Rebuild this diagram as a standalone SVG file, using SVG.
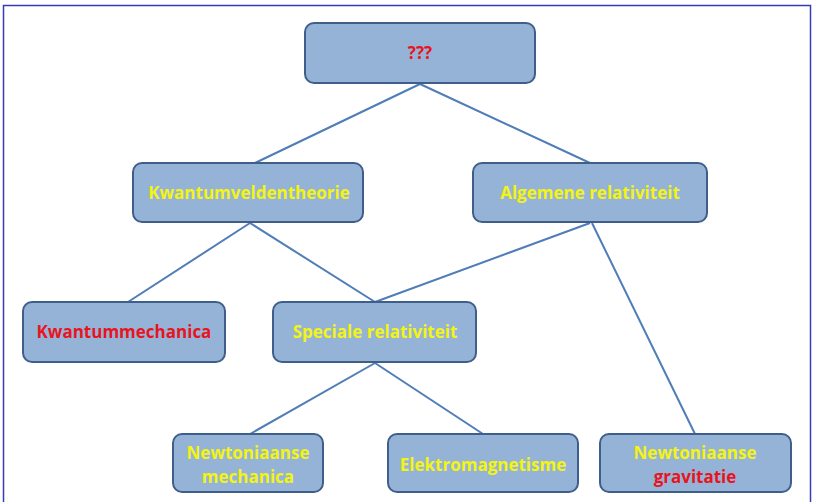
<svg xmlns="http://www.w3.org/2000/svg" width="814" height="502" viewBox="0 0 814 502">
<style>
.box{fill:#95b3d7;stroke:#3f5f8a;stroke-width:2}
.t{font-family:"Open Sans","Liberation Sans",sans-serif;font-weight:bold;font-size:17px;text-anchor:middle}
.y{fill:#f4f414}
.r{fill:#e8141e}
.ln{stroke:#4f7db6;stroke-width:2;fill:none}
</style>
<rect x="0" y="0" width="814" height="502" fill="#ffffff"/>
<rect x="3.5" y="5.5" width="807" height="500" fill="none" stroke="#3a3ab8" stroke-width="1.5"/>
<g id="connectors">
<line class="ln" x1="420" y1="84" x2="255" y2="163"/>
<line class="ln" x1="420" y1="84" x2="590" y2="163"/>
<line class="ln" x1="250" y1="223" x2="128" y2="302"/>
<line class="ln" x1="250" y1="223" x2="375" y2="302"/>
<line class="ln" x1="590" y1="223" x2="375" y2="302"/>
<line class="ln" x1="592" y1="223" x2="695" y2="434"/>
<line class="ln" x1="375" y1="363" x2="250" y2="434"/>
<line class="ln" x1="375" y1="363" x2="483" y2="434"/>
</g>
<g id="n-top">
<rect class="box" x="305" y="23" width="230" height="60" rx="9"/>
<text class="t r" x="420" y="59">???</text>
</g>
<g id="n-kvt">
<rect class="box" x="133" y="163" width="230" height="59" rx="9"/>
<text class="t y" x="249" y="199">Kwantumveldentheorie</text>
</g>
<g id="n-ar">
<rect class="box" x="473" y="163" width="234" height="59" rx="9"/>
<text class="t y" x="590" y="199">Algemene relativiteit</text>
</g>
<g id="n-km">
<rect class="box" x="23" y="302" width="202" height="60" rx="9"/>
<text class="t r" x="124" y="338">Kwantummechanica</text>
</g>
<g id="n-sr">
<rect class="box" x="273" y="302" width="203" height="60" rx="9"/>
<text class="t y" x="375" y="338">Speciale relativiteit</text>
</g>
<g id="n-nm">
<rect class="box" x="173" y="434" width="150" height="58" rx="9"/>
<text class="t y" x="248" y="459">Newtoniaanse</text>
<text class="t y" x="248" y="483">mechanica</text>
</g>
<g id="n-em">
<rect class="box" x="388" y="434" width="190" height="58" rx="9"/>
<text class="t y" x="483" y="471">Elektromagnetisme</text>
</g>
<g id="n-ng">
<rect class="box" x="600" y="434" width="191" height="58" rx="9"/>
<text class="t y" x="695" y="459">Newtoniaanse</text>
<text class="t r" x="695" y="483">gravitatie</text>
</g>
</svg>
